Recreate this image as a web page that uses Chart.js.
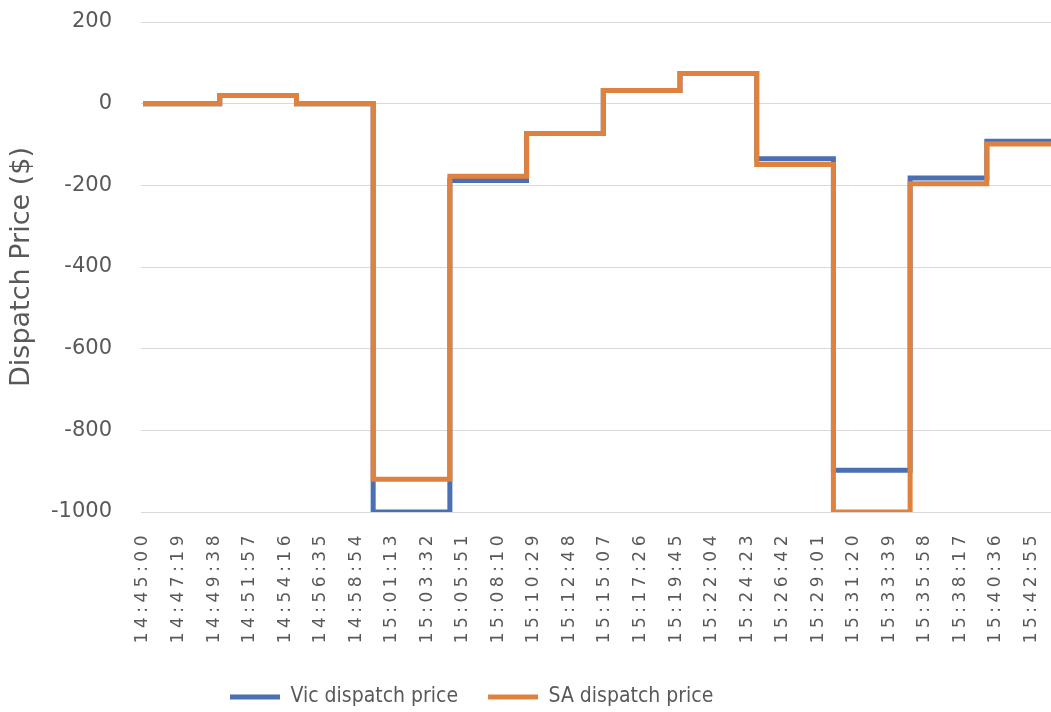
<!DOCTYPE html>
<html>
<head>
<meta charset="utf-8">
<title>Dispatch Price</title>
<script src="https://cdn.jsdelivr.net/npm/chart.js@4.4.1/dist/chart.umd.min.js"></script>
<style>
  html, body { margin: 0; padding: 0; background: #ffffff; }
  #wrap { width: 1051px; height: 712px; }
</style>
</head>
<body>
<div id="wrap"><canvas id="chart" width="1051" height="712"></canvas></div>
<script>
// Start of each 5-minute dispatch interval (last entry closes the final interval)
const intervalStarts = ['14:45:00', '14:50:00', '14:55:00', '15:00:00', '15:05:00', '15:10:00',
                        '15:15:00', '15:20:00', '15:25:00', '15:30:00', '15:35:00', '15:40:00', '15:45:00'];
// Dispatch prices ($) for each interval
const vicPrices = [0, 20, 0, -1000, -188, -73, 32, 74, -135, -898, -182, -92];
const saPrices  = [0, 20, 0, -920, -178, -73, 32, 74, -149, -1000, -196, -99];
// Time labels shown along the horizontal axis
const tickLabels = ['14:45:00', '14:47:19', '14:49:38', '14:51:57', '14:54:16', '14:56:35', '14:58:54',
                    '15:01:13', '15:03:32', '15:05:51', '15:08:10', '15:10:29', '15:12:48', '15:15:07',
                    '15:17:26', '15:19:45', '15:22:04', '15:24:23', '15:26:42', '15:29:01', '15:31:20',
                    '15:33:39', '15:35:58', '15:38:17', '15:40:36', '15:42:55'];
// Price axis ticks
const priceTicks = [200, 0, -200, -400, -600, -800, -1000];

const START = '14:45:00';
function toSeconds(t) {
  const [h, m, s] = t.split(':').map(Number);
  return h * 3600 + m * 60 + s;
}
function offset(t) { return toSeconds(t) - toSeconds(START); }

// Each price is held for its interval; the final point closes the last interval
function stepPoints(prices) {
  return intervalStarts.map((t, i) => ({ x: offset(t), y: prices[Math.min(i, prices.length - 1)] }));
}

const tickSeconds = tickLabels.map(offset);
const grey = '#595959';
const vicColor = '#4b6fb3';
const saColor = '#e0823f';

// Moves the legend to a fixed spot below the axis labels
const legendPlacement = {
  id: 'legendPlacement',
  afterLayout(chart, args, opts) {
    const lg = chart.legend;
    if (!lg) return;
    const pad = lg.options.labels.padding;
    const fs = lg.options.labels.font.size;
    lg.left = opts.x - pad; lg.right = lg.left + 800;
    lg.top = opts.centerY - pad - fs / 2; lg.bottom = lg.top + fs + 2 * pad;
  }
};

// Wider letter spacing for the rotated time labels
const spacedTicks = {
  id: 'spacedTicks',
  afterLayout(chart, args, opts) {
    const scale = chart.scales.x;
    if (!scale || scale.__spaced) return;
    const draw = scale.drawLabels;
    scale.drawLabels = function (area) {
      this.ctx.save();
      this.ctx.letterSpacing = opts.spacing + 'px';
      draw.call(this, area);
      this.ctx.restore();
    };
    scale.__spaced = true;
  }
};

new Chart(document.getElementById('chart'), {
  type: 'line',
  data: {
    datasets: [
      {
        label: 'Vic dispatch price',
        data: stepPoints(vicPrices),
        borderColor: vicColor,
        backgroundColor: vicColor,
        borderWidth: 5,
        stepped: 'before',
        pointRadius: 0,
        fill: false,
        order: 1
      },
      {
        label: 'SA dispatch price',
        data: stepPoints(saPrices),
        borderColor: saColor,
        backgroundColor: saColor,
        borderWidth: 5,
        stepped: 'before',
        pointRadius: 0,
        fill: false,
        order: 0
      }
    ]
  },
  options: {
    responsive: false,
    animation: false,
    events: [],
    layout: { padding: { top: 22, right: 0, bottom: 0, left: 0 } },
    scales: {
      x: {
        type: 'linear',
        min: -8,
        max: 3551,
        grid: { display: false },
        border: { display: false },
        afterBuildTicks: (axis) => { axis.ticks = tickSeconds.map(v => ({ value: v })); },
        afterFit: (scale) => { scale.height = 199; scale.paddingLeft = 0; scale.paddingRight = 0; },
        ticks: {
          autoSkip: false,
          minRotation: 90,
          maxRotation: 90,
          padding: 11,
          color: grey,
          font: { family: '"DejaVu Sans"', size: 17 },
          callback: (value, index) => tickLabels[index]
        }
      },
      y: {
        min: -1000,
        max: 200,
        afterBuildTicks: (axis) => { axis.ticks = priceTicks.map(v => ({ value: v })); },
        afterFit: (scale) => { scale.width = 141; scale.paddingTop = 0; scale.paddingBottom = 0; },
        grid: { color: '#d9d9d9', lineWidth: 1, drawTicks: false },
        border: { display: false },
        ticks: {
          padding: 29,
          color: grey,
          font: { family: '"DejaVu Sans"', size: 21 },
          callback: (value) => String(value)
        },
        title: {
          display: true,
          text: 'Dispatch Price ($)',
          color: grey,
          font: { family: '"DejaVu Sans"', size: 27, weight: 'normal' },
          padding: { top: 6, bottom: 0 }
        }
      }
    },
    plugins: {
      legend: {
        position: 'bottom',
        align: 'start',
        maxHeight: 1,
        labels: {
          boxWidth: 50,
          boxHeight: 5,
          padding: 30,
          color: grey,
          font: { family: '"DejaVu Sans Condensed", "DejaVu Sans"', size: 21 },
          sort: (a, b) => a.datasetIndex - b.datasetIndex,
          generateLabels: (chart) =>
            Chart.defaults.plugins.legend.labels.generateLabels(chart).map(item => ({ ...item, lineWidth: 0 }))
        }
      },
      legendPlacement: { x: 230, centerY: 697 },
      spacedTicks: { spacing: 4.5 },
      tooltip: { enabled: false }
    }
  },
  plugins: [legendPlacement, spacedTicks]
});
</script>
</body>
</html>
